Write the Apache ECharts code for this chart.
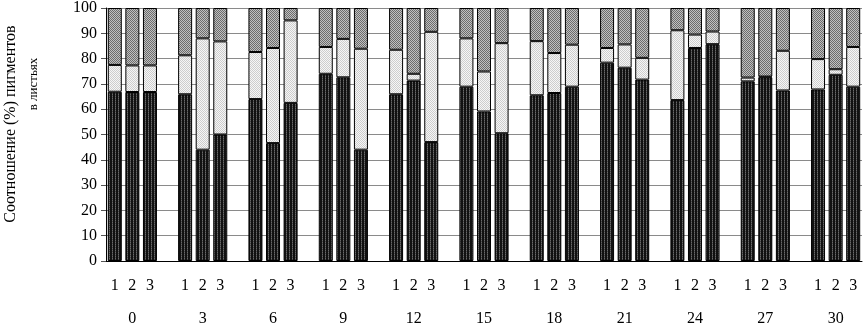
<!DOCTYPE html>
<html>
<head>
<meta charset="utf-8">
<script src="https://cdn.jsdelivr.net/npm/echarts@6/dist/echarts.min.js"></script>
<style>html,body{margin:0;padding:0;background:#fff}#c{width:863px;height:327px}</style>
</head>
<body>
<div id="c"></div>
<script>
// ---- data ----
var groups = ['0','3','6','9','12','15','18','21','24','27','30'];
var subLabels = ['1','2','3'];
var yTicks = [0,10,20,30,40,50,60,70,80,90,100];
// bottom (dark) segment, per group: bars 1,2,3
var darkVals = [
  [66.9,66.8,66.8],[65.9,44.0,50.0],[64.0,46.6,62.5],[74.0,72.6,44.0],
  [65.9,71.3,47.0],[68.9,59.1,50.5],[65.5,66.4,68.9],[78.4,76.4,71.7],
  [63.6,84.2,85.7],[71.0,72.6,67.4],[67.8,73.6,68.9]
];
// middle (light) segment
var lightVals = [
  [10.6,10.5,10.5],[15.4,44.0,36.8],[18.6,37.6,32.6],[10.6,15.2,39.9],
  [17.6,2.7,43.6],[19.1,15.8,35.6],[21.4,15.8,16.6],[5.8,9.2,8.6],
  [27.6,5.3,5.0],[1.5,0.3,15.7],[12.0,2.2,15.7]
];
// top (grey) segment
var topVals = [
  [22.5,22.7,22.7],[18.7,12.0,13.2],[17.4,15.8,4.9],[15.4,12.2,16.1],
  [16.5,26.0,9.4],[12.0,25.1,13.9],[13.1,17.8,14.5],[15.8,14.4,19.7],
  [8.8,10.5,9.3],[27.5,27.1,16.9],[20.2,24.2,15.4]
];

// ---- build slot arrays (3 bars + one empty slot per group) ----
var cats = [], groupCats = [], sDark = [], sLight = [], sTop = [];
groups.forEach(function(g, gi){
  for (var b = 0; b < 3; b++) {
    cats.push(subLabels[b]);
    groupCats.push(b === 1 ? g : '');
    sDark.push(darkVals[gi][b]);
    sLight.push(lightVals[gi][b]);
    sTop.push(topVals[gi][b]);
  }
  if (gi < groups.length - 1) {
    cats.push(''); groupCats.push(''); sDark.push('-'); sLight.push('-'); sTop.push('-');
  }
});

// ---- patterns ----
function pat(w, h, draw){
  var c = document.createElement('canvas'); c.width = w; c.height = h;
  var ctx = c.getContext('2d'); draw(ctx); return {image: c, repeat: 'repeat'};
}
var darkPat = pat(3, 2, function(ctx){
  ctx.fillStyle = '#111'; ctx.fillRect(0,0,3,2);
  ctx.fillStyle = '#6a6a6a'; ctx.fillRect(1,0,1,1);
  ctx.fillStyle = '#444'; ctx.fillRect(1,1,1,1);
});
var lightPat = pat(2, 2, function(ctx){
  ctx.fillStyle = '#f6f6f6'; ctx.fillRect(0,0,2,2);
  ctx.fillStyle = '#cdcdcd'; ctx.fillRect(0,0,1,1); ctx.fillRect(1,1,1,1);
});
var topPat = pat(2, 2, function(ctx){
  ctx.fillStyle = '#c0c0c0'; ctx.fillRect(0,0,2,2);
  ctx.fillStyle = '#6c6c6c'; ctx.fillRect(0,0,1,1); ctx.fillRect(1,1,1,1);
});

var font = '"Liberation Serif", "DejaVu Serif", serif';
var chart = echarts.init(document.getElementById('c'), null, {renderer: 'canvas'});
function ser(name, data, color){
  return {
    name: name, type: 'bar', stack: 'all', data: data, barWidth: 14,
    itemStyle: {color: color, borderColor: '#000', borderWidth: 1},
    animation: false
  };
}
chart.setOption({
  animation: false,
  grid: {left: 106, right: 1, top: 5, bottom: 63, containLabel: false},
  xAxis: [
    {
      type: 'category', data: cats, position: 'bottom',
      axisLine: {show: true, lineStyle: {color: '#000', width: 1}},
      axisTick: {show: false},
      axisLabel: {interval: 0, margin: 17, fontFamily: font, fontSize: 16, color: '#000'}
    },
    {
      type: 'category', data: groupCats, position: 'bottom', offset: 0,
      axisLine: {show: false}, axisTick: {show: false},
      axisLabel: {interval: 0, margin: 50, fontFamily: font, fontSize: 16, color: '#000'}
    }
  ],
  yAxis: {
    type: 'value', min: yTicks[0], max: yTicks[yTicks.length-1], interval: 10,
    axisLine: {show: true, lineStyle: {color: '#000', width: 1}},
    axisTick: {show: true, length: 5, lineStyle: {color: '#555'}},
    axisLabel: {margin: 9, fontFamily: font, fontSize: 16, color: '#000'},
    splitLine: {show: true, lineStyle: {color: '#8a8a8a', width: 1}}
  },
  series: [
    ser('dark', sDark, darkPat),
    ser('light', sLight, lightPat),
    ser('top', sTop, topPat)
  ],
  graphic: [
    {type: 'text', x: 11, y: 124, rotation: Math.PI/2,
     style: {text: 'Соотношение (%) пигментов', font: '16px ' + font, fill: '#000', textAlign: 'center', textVerticalAlign: 'middle'}},
    {type: 'text', x: 34, y: 84, rotation: Math.PI/2,
     style: {text: 'в листьях', font: '13px ' + font, fill: '#000', textAlign: 'center', textVerticalAlign: 'middle'}}
  ]
});
</script>
</body>
</html>
